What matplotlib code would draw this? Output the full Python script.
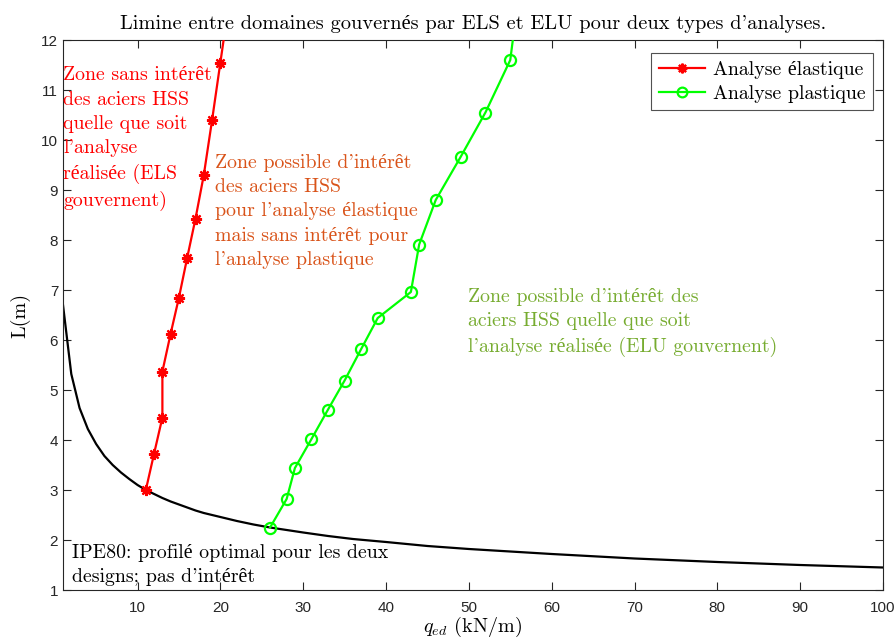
import matplotlib
matplotlib.use("Agg")
import matplotlib.pyplot as plt

# ---- data ----
q_elastique = [11, 12, 13, 13, 14, 15, 16, 17, 18, 19, 20, 21]
L_elastique = [3.0, 3.73, 4.45, 5.37, 6.13, 6.85, 7.65, 8.43, 9.3, 10.4, 11.55, 12.7]

q_plastique = [26, 28, 29, 31, 33, 35, 37, 39, 43, 44, 46, 49, 52, 55, 56]
L_plastique = [2.25, 2.82, 3.44, 4.02, 4.61, 5.19, 5.82, 6.44, 6.96, 7.91, 8.8, 9.66, 10.55, 11.6, 12.9]

q_ipe80 = [1, 2, 3, 4, 5, 6, 7, 8, 9, 10, 11, 12, 13, 14, 15, 16, 17, 18, 19, 20, 22, 24, 26, 28, 30,
           33, 36, 40, 45, 50, 55, 60, 70, 80, 90, 100]
L_ipe80 = [6.70, 5.32, 4.64, 4.22, 3.92, 3.68, 3.50, 3.35, 3.22, 3.10, 3.00, 2.92, 2.84, 2.77, 2.71,
           2.65, 2.59, 2.54, 2.50, 2.46, 2.38, 2.31, 2.25, 2.20, 2.15, 2.08, 2.02, 1.96, 1.88, 1.82,
           1.77, 1.72, 1.63, 1.56, 1.50, 1.45]

x_ticks = [10, 20, 30, 40, 50, 60, 70, 80, 90, 100]
y_ticks = [1, 2, 3, 4, 5, 6, 7, 8, 9, 10, 11, 12]

plt.rcParams['mathtext.fontset'] = 'cm'
serif = ['cmr10', 'Liberation Serif']
sans = ['Liberation Sans', 'DejaVu Sans']
FS = 14.3

fig = plt.figure(figsize=(8.96, 6.39), dpi=100)
ax = fig.add_axes([63/896, 49/639, 820/896, 550/639])

ax.plot(q_ipe80, L_ipe80, color='black', lw=1.6, zorder=2)
ax.plot(q_elastique, L_elastique, color=(1, 0, 0), lw=1.6, marker=(8, 2, 0), ms=8, mew=1.6,
        label='Analyse élastique', zorder=3)
ax.plot(q_plastique, L_plastique, color=(0, 1, 0), lw=1.6, marker='o', ms=8, mew=1.6, mfc='none',
        label='Analyse plastique', zorder=3)

ax.set_xlim(1, 100)
ax.set_ylim(1, 12)
ax.set_xticks(x_ticks)
ax.set_yticks(y_ticks)
ax.tick_params(direction='in', top=True, right=True, length=6, width=0.8, colors='#262626',
               labelsize=11)
ax.tick_params(axis='x', pad=8)
for lab in ax.get_xticklabels() + ax.get_yticklabels():
    lab.set_family(sans)
for s in ax.spines.values():
    s.set_color('#262626')
    s.set_linewidth(0.8)

ax.set_title("Limine entre domaines gouvernés par ELS et ELU pour deux types d'analyses.",
             family=serif, fontsize=14.7, pad=8)
ax.set_xlabel(r'$q_{ed}$ (kN/m)', family=serif, fontsize=14.5, labelpad=0)
ax.set_ylabel('L(m)', family=serif, fontsize=14.5, labelpad=8)

ls = 1.45
ax.text(1.0, 11.47, "Zone sans intérêt\ndes aciers HSS\nquelle que soit\nl'analyse\nréalisée (ELS\ngouvernent)",
        color=(1, 0, 0), family=serif, fontsize=FS, va='top', ha='left', linespacing=ls)
ax.text(19.4, 9.72, "Zone possible d'intérêt\ndes aciers HSS\npour l'analyse élastique\nmais sans intérêt pour\nl'analyse plastique",
        color='#D95319', family=serif, fontsize=FS, va='top', ha='left', linespacing=ls)
ax.text(49.9, 7.05, "Zone possible d'intérêt des\naciers HSS quelle que soit\nl'analyse réalisée (ELU gouvernent)",
        color='#77AC30', family=serif, fontsize=FS, va='top', ha='left', linespacing=ls)
ax.text(2.1, 1.92, "IPE80: profilé optimal pour les deux\ndesigns; pas d'intérêt",
        color='black', family=serif, fontsize=FS, va='top', ha='left', linespacing=ls)

leg = ax.legend(loc='upper right', bbox_to_anchor=(0.988, 0.977), prop={'family': serif, 'size': FS},
                frameon=True, fancybox=False, edgecolor='#262626', borderpad=0.4, handlelength=2.3,
                labelspacing=0.3, borderaxespad=0.0, handletextpad=0.4)
leg.get_frame().set_linewidth(0.8)
for h in leg.legend_handles:
    h.set_markersize(7)

fig.savefig('out.png', dpi=100)
